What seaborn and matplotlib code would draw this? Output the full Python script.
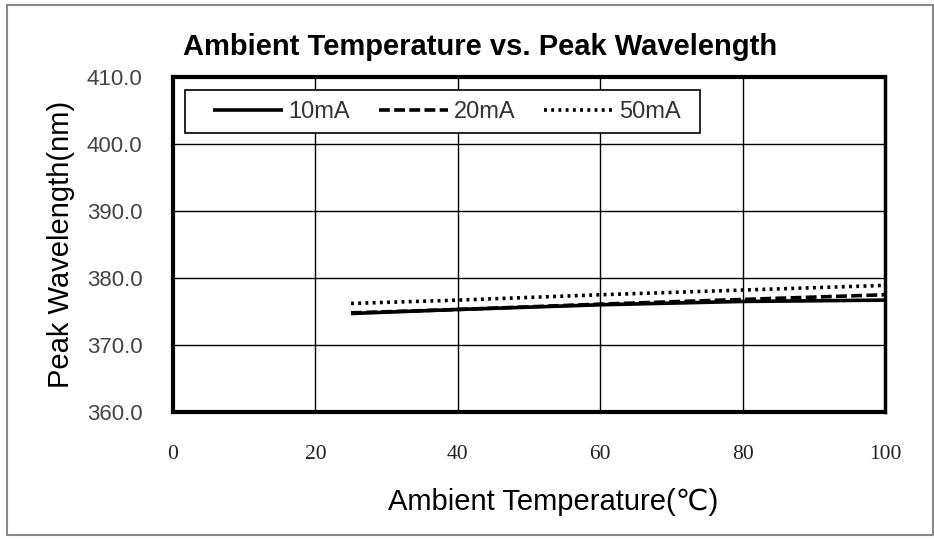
import matplotlib
matplotlib.use("Agg")
import matplotlib.pyplot as plt
import seaborn as sns
import pandas as pd
from matplotlib.patches import Rectangle

temps = [25, 40, 60, 80, 100]
wl_10mA = [374.7, 375.3, 376.0, 376.5, 376.7]
wl_20mA = [374.8, 375.3, 376.1, 376.8, 377.5]
wl_50mA = [376.2, 376.7, 377.5, 378.2, 378.9]
series_names = ["10mA", "20mA", "50mA"]
x_ticks = [0, 20, 40, 60, 80, 100]
y_ticks = [360, 370, 380, 390, 400, 410]

rows = []
for name, vals in zip(series_names, [wl_10mA, wl_20mA, wl_50mA]):
    for t, v in zip(temps, vals):
        rows.append({"T": t, "WL": v, "cur": name})
df = pd.DataFrame(rows)

sns.set_theme(style="white")
plt.rcParams['font.family'] = ['Liberation Sans', 'DejaVu Sans']

W, H = 934, 540
fig = plt.figure(figsize=(W / 100, H / 100), dpi=100)
fig.patch.set_facecolor("white")
fig.patches.append(Rectangle((7/W, 5/H), 1 - 8/W, 1 - 10/H, transform=fig.transFigure,
                             fill=False, edgecolor="#8a8a8a", linewidth=1.5))
ax = fig.add_axes([173/W, 1 - 412/H, (885 - 173)/W, (412 - 77)/H])

styles = {"10mA": (0, ()), "20mA": (0, (3, 1.2)), "50mA": (0, (0.8, 1.2))}
for name in series_names:
    sub = df[df["cur"] == name]
    sns.lineplot(data=sub, x="T", y="WL", ax=ax, color="black", linewidth=2.6,
                 linestyle=styles[name], label=name)

ax.set_xlim(0, 100)
ax.set_ylim(360, 410)
ax.set_xticks(x_ticks)
ax.set_yticks(y_ticks)
ax.set_xticklabels([str(v) for v in x_ticks], family="Liberation Serif", fontsize=15.5,
                   color="#222222")
ax.set_yticklabels([f"{v:.1f}" for v in y_ticks], fontsize=16, color="#444444")
ax.tick_params(axis="x", direction="in", length=5, width=1.5, pad=24, colors="black",
               labelcolor="#222222")
ax.tick_params(axis="y", direction="in", length=5, width=2, pad=22, colors="black",
               labelcolor="#444444")
ax.grid(True, color="black", linewidth=1.0)
for s in ax.spines.values():
    s.set_visible(True)
    s.set_color("black")
    s.set_linewidth(3)
ax.spines["right"].set_linewidth(2.5)

ax.set_xlabel("Ambient Temperature(℃)", fontsize=21, color="black")
ax.set_ylabel("Peak Wavelength(nm)", fontsize=21, color="black")
ax.yaxis.set_label_coords(-0.138, 0.5)
ax.xaxis.set_label_coords(0.534, -0.227)

fig.text(480/W, 1 - 47/H, "Ambient Temperature vs. Peak Wavelength", ha="center", va="center",
         fontsize=21, fontweight="bold", color="black")

# legend frame drawn separately (wider horizontal padding than vertical)
ax.add_patch(Rectangle((185/W, 1 - 133/H), (700 - 185)/W, 43/H, transform=fig.transFigure,
                       fill=True, facecolor="white", edgecolor="black", linewidth=1.2,
                       zorder=4))
leg = ax.legend(loc="center left", bbox_to_anchor=(213/W, 1 - 112/H),
                bbox_transform=fig.transFigure, ncol=3, frameon=False,
                fontsize=17, handlelength=2.95, handletextpad=0.25, columnspacing=1.2,
                borderpad=0, borderaxespad=0)
leg.set_zorder(5)
for t in leg.get_texts():
    t.set_color("#333333")

fig.savefig("out.png", dpi=100, facecolor="white")
